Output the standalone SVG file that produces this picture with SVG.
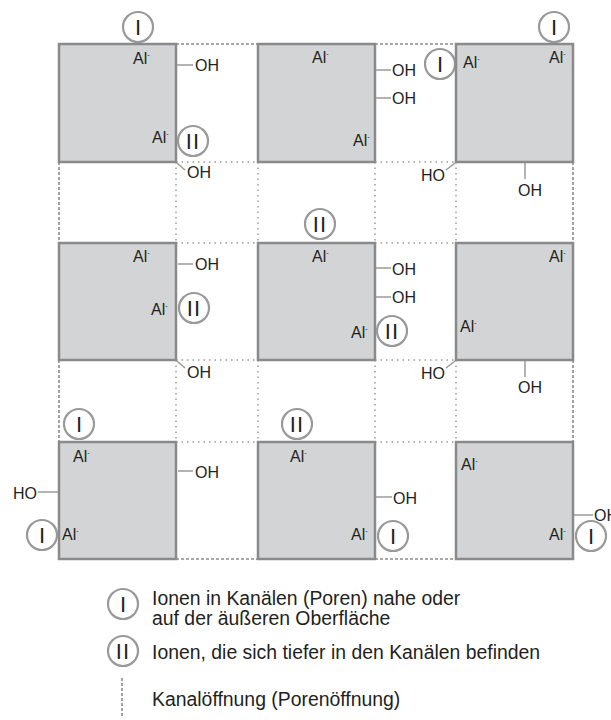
<svg xmlns="http://www.w3.org/2000/svg" width="611" height="720" viewBox="0 0 611 720">
  <style>
    .blk { fill: #d3d4d6; stroke: #8a8a8a; stroke-width: 2.5; }
    .edge { fill: none; stroke: #8a8a8a; stroke-width: 1.6; stroke-dasharray: 3 2; }
    .pore { fill: none; stroke: #9a9a9a; stroke-width: 1.5; stroke-dasharray: 1.5 4; }
    .bond { fill: none; stroke: #9a9a9a; stroke-width: 1.5; }
    .site { fill: #ffffff; stroke: #999999; stroke-width: 2.2; }
    .lbl { font-family: "Liberation Sans", Arial, sans-serif; font-size: 16px; fill: #231f20; }
    .sup { font-size: 7px; }
    .num { font-family: "Liberation Sans", Arial, sans-serif; font-size: 22px; fill: #231f20; text-anchor: middle; }
    .leg { font-family: "Liberation Sans", Arial, sans-serif; font-size: 19.4px; fill: #231f20; }
  </style>
  <defs>
    <symbol id="s1" overflow="visible"><circle class="site" cx="0" cy="0" r="15"/><text class="num" x="0" y="8">I</text></symbol>
    <symbol id="s2" overflow="visible"><circle class="site" cx="0" cy="0" r="15"/><text class="num" x="0" y="8" letter-spacing="1.2">II</text></symbol>
  </defs>

  <!-- channel openings between blocks -->
  <g id="connectors">
    <path class="edge" d="M176 44H258M375 44H456M176 559H258M375 559H456M59 162V243M59 360V442M573 162V243M573 360V442"/>
    <path class="pore" d="M176 162H258M375 162H456M176 243H258M375 243H456M176 360H258M375 360H456M176 442H258M375 442H456"/>
    <path class="pore" d="M176 162V243M258 162V243M375 162V243M456 162V243M176 360V442M258 360V442M375 360V442M456 360V442"/>
  </g>

  <!-- row 1 -->
  <g id="blockA">
    <rect class="blk" x="59" y="44" width="117" height="118"/>
    <use href="#s1" x="138" y="27"/>
    <text class="lbl" x="133" y="64">Al<tspan class="sup" dy="-7">-</tspan></text>
    <path class="bond" d="M177 65H193"/>
    <text class="lbl" x="195" y="71">OH</text>
    <text class="lbl" x="152" y="143">Al<tspan class="sup" dy="-7">-</tspan></text>
    <use href="#s2" x="193" y="141"/>
    <path class="bond" d="M177 163L185 170"/>
    <text class="lbl" x="187" y="178">OH</text>
  </g>
  <g id="blockB">
    <rect class="blk" x="258" y="44" width="117" height="118"/>
    <text class="lbl" x="312" y="63">Al<tspan class="sup" dy="-7">-</tspan></text>
    <path class="bond" d="M376 70H391M376 98H391"/>
    <text class="lbl" x="392" y="76">OH</text>
    <text class="lbl" x="392" y="104">OH</text>
    <text class="lbl" x="353" y="146">Al<tspan class="sup" dy="-7">-</tspan></text>
    <use href="#s1" x="440" y="64"/>
  </g>
  <g id="blockC">
    <rect class="blk" x="456" y="44" width="117" height="118"/>
    <use href="#s1" x="554" y="27"/>
    <text class="lbl" x="463" y="68">Al<tspan class="sup" dy="-7">-</tspan></text>
    <text class="lbl" x="549" y="63">Al<tspan class="sup" dy="-7">-</tspan></text>
    <path class="bond" d="M455 163L446 170M525 163V179"/>
    <text class="lbl" x="445" y="181" text-anchor="end">HO</text>
    <text class="lbl" x="518" y="196">OH</text>
  </g>

  <!-- row 2 -->
  <g id="blockD">
    <rect class="blk" x="59" y="243" width="117" height="117"/>
    <text class="lbl" x="133" y="262">Al<tspan class="sup" dy="-7">-</tspan></text>
    <path class="bond" d="M178 264H193"/>
    <text class="lbl" x="195" y="270">OH</text>
    <text class="lbl" x="151" y="315">Al<tspan class="sup" dy="-7">-</tspan></text>
    <use href="#s2" x="194" y="308"/>
    <path class="bond" d="M177 361L185 368"/>
    <text class="lbl" x="187" y="378">OH</text>
  </g>
  <g id="blockE">
    <rect class="blk" x="258" y="243" width="117" height="117"/>
    <use href="#s2" x="320" y="224"/>
    <text class="lbl" x="312" y="262">Al<tspan class="sup" dy="-7">-</tspan></text>
    <path class="bond" d="M376 268H391M376 297H391"/>
    <text class="lbl" x="392" y="275">OH</text>
    <text class="lbl" x="392" y="303">OH</text>
    <text class="lbl" x="351" y="338">Al<tspan class="sup" dy="-7">-</tspan></text>
    <use href="#s2" x="392" y="331"/>
  </g>
  <g id="blockF">
    <rect class="blk" x="456" y="243" width="117" height="117"/>
    <text class="lbl" x="549" y="262">Al<tspan class="sup" dy="-7">-</tspan></text>
    <text class="lbl" x="460" y="332">Al<tspan class="sup" dy="-7">-</tspan></text>
    <path class="bond" d="M455 361L446 368M525 361V377"/>
    <text class="lbl" x="445" y="379" text-anchor="end">HO</text>
    <text class="lbl" x="518" y="393">OH</text>
  </g>

  <!-- row 3 -->
  <g id="blockG">
    <rect class="blk" x="59" y="442" width="117" height="117"/>
    <use href="#s1" x="79" y="424"/>
    <text class="lbl" x="73" y="462">Al<tspan class="sup" dy="-7">-</tspan></text>
    <path class="bond" d="M38 492H58"/>
    <text class="lbl" x="37" y="499" text-anchor="end">HO</text>
    <use href="#s1" x="42" y="535"/>
    <text class="lbl" x="62" y="540">Al<tspan class="sup" dy="-7">-</tspan></text>
    <path class="bond" d="M178 471H193"/>
    <text class="lbl" x="195" y="478">OH</text>
  </g>
  <g id="blockH">
    <rect class="blk" x="258" y="442" width="117" height="117"/>
    <use href="#s2" x="297" y="424"/>
    <text class="lbl" x="290" y="462">Al<tspan class="sup" dy="-7">-</tspan></text>
    <path class="bond" d="M376 497H392"/>
    <text class="lbl" x="393" y="504">OH</text>
    <text class="lbl" x="351" y="540">Al<tspan class="sup" dy="-7">-</tspan></text>
    <use href="#s1" x="393" y="536"/>
  </g>
  <g id="blockI">
    <rect class="blk" x="456" y="442" width="117" height="117"/>
    <text class="lbl" x="461" y="470">Al<tspan class="sup" dy="-7">-</tspan></text>
    <text class="lbl" x="549" y="540">Al<tspan class="sup" dy="-7">-</tspan></text>
    <path class="bond" d="M574 515H593"/>
    <text class="lbl" x="594" y="521">OH</text>
    <use href="#s1" x="591" y="536"/>
  </g>

  <!-- key -->
  <g id="legend">
    <use href="#s1" x="123" y="604"/>
    <text class="leg" x="152" y="605">Ionen in Kanälen (Poren) nahe oder</text>
    <text class="leg" x="152" y="625">auf der äußeren Oberfläche</text>
    <use href="#s2" x="123" y="651"/>
    <text class="leg" x="152" y="659">Ionen, die sich tiefer in den Kanälen befinden</text>
    <path class="edge" d="M122 678V718"/>
    <text class="leg" x="152" y="706">Kanalöffnung (Porenöffnung)</text>
  </g>
</svg>
